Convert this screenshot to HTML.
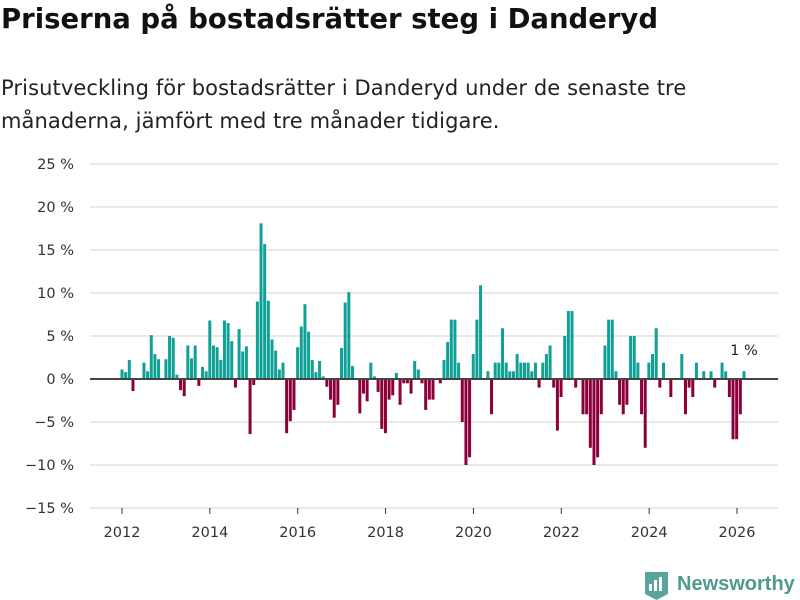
<!DOCTYPE html>
<html><head><meta charset="utf-8"><style>
body{margin:0;width:800px;height:600px;background:#fff;font-family:"DejaVu Sans","Liberation Sans",sans-serif;overflow:hidden;position:relative}
#title{position:absolute;left:1px;top:3px;font-size:27.5px;font-weight:bold;color:#111;margin:0;letter-spacing:0px;white-space:nowrap}
#sub{position:absolute;left:1px;top:72px;font-size:21px;color:#222;line-height:33px;margin:0;white-space:nowrap;letter-spacing:0.1px}
svg{position:absolute;left:0;top:0}
</style></head><body>
<h1 id="title">Priserna på bostadsrätter steg i Danderyd</h1>
<p id="sub">Prisutveckling för bostadsrätter i Danderyd under de senaste tre<br>månaderna, jämfört med tre månader tidigare.</p>
<svg id="chart" width="800" height="600"></svg>
<script>
const values = [
1.1,0.8,2.2,-1.4,0,0,1.9,0.9,5.1,2.9,2.3,0,
2.3,5.0,4.8,0.5,-1.3,-2.0,3.9,2.4,3.9,-0.8,1.4,0.9,
6.8,3.9,3.7,2.2,6.8,6.5,4.4,-1.0,5.8,3.2,3.8,-6.4,
-0.7,9.0,18.1,15.7,9.1,4.6,3.3,1.1,1.9,-6.3,-4.9,-3.6,
3.7,6.1,8.7,5.5,2.2,0.8,2.1,0.3,
-0.9,-2.4,-4.5,-3.0,3.6,8.9,10.1,1.5,0,-4.0,
-1.7,-2.6,1.9,0.3,-1.5,-5.8,-6.3,-2.4,-1.9,0.7,
-3.0,-0.5,-0.5,-1.7,2.1,1.1,-0.5,-3.6,-2.4,-2.4,
0,-0.5,2.2,4.3,6.9,6.9,1.9,-5.0,-10.0,-9.1,
2.9,6.9,10.9,0,0.9,-4.1,1.9,1.9,5.9,1.9,
0.9,0.9,2.9,1.9,1.9,1.9,0.9,1.9,-1.0,1.9,
2.9,3.9,-1.0,-6.0,-2.1,5.0,7.9,7.9,-1.0,0,
-4.1,-4.1,-8.0,-10.0,-9.1,-4.1,3.9,6.9,6.9,0.9,
-3.0,-4.1,-3.0,5.0,5.0,1.9,-4.1,-8.0,1.9,2.9,
5.9,-1.0,1.9,0,-2.1,0,0,2.9,-4.1,-1.0,
-2.1,1.9,0,0.9,0,0.9,-1.0,0,1.9,0.9,
-2.1,-7.0,-7.0,-4.1,0.9
];
const yTicks = [25,20,15,10,5,0,-5,-10,-15];
const yTickLabels = ["25 %","20 %","15 %","10 %","5 %","0 %","−5 %","−10 %","−15 %"];
const xTickLabels = ["2012","2014","2016","2018","2020","2022","2024","2026"];
const lastLabel = "1 %";

const svg = document.getElementById('chart');
const NS = 'http://www.w3.org/2000/svg';
const FONT = 'DejaVu Sans, Liberation Sans, sans-serif';
function y(v){ return 379 - v*8.6; }
function x(i){ return 122 + i*(744-122)/(values.length-1); }
function xTick(k){ return 122 + k*(737-122)/7; }
function mk(tag, attrs){ const e=document.createElementNS(NS,tag); for(const k in attrs) e.setAttribute(k,attrs[k]); svg.appendChild(e); return e; }

yTicks.forEach((t,i)=>{
  if(t!==0){
    const g = mk('line',{x1:90,x2:778,y1:y(t),y2:y(t),stroke:'#dcdcdc','stroke-width':1.2});
    
    
  }
  const tx = mk('text',{x:74,y:y(t)+5,'text-anchor':'end','font-size':14.5,fill:'#333','font-family':FONT});
  tx.textContent = yTickLabels[i];
  
  
});
xTickLabels.forEach((l,k)=>{
  const tk = mk('line',{x1:xTick(k),x2:xTick(k),y1:508,y2:514,stroke:'#333','stroke-width':1});
  
  
  const tx = mk('text',{x:xTick(k),y:537,'text-anchor':'middle','font-size':14.5,fill:'#333','font-family':FONT});
  tx.textContent = l;
  
  
});
values.forEach((v,i)=>{
  if(v===0) return;
  const top = v>0 ? y(v) : y(0);
  const r = mk('rect',{x:x(i)-1.5,y:top,width:3,height:Math.abs(y(v)-y(0)),fill: v>0?'#0fa096':'#8c0039'});
  
  
});
const zl = mk('line',{x1:90,x2:778,y1:y(0),y2:y(0),stroke:'#444','stroke-width':2});


const lb = mk('text',{x:x(values.length-1),y:355,'text-anchor':'middle','font-size':14.5,fill:'#222','font-family':FONT});
lb.textContent = lastLabel;


</script>
<svg width="800" height="600" style="pointer-events:none">
<path d="M645 572 h23 v22 l-11.5 6 l-11.5 -6 z" fill="#5aa59a"/>
<rect x="649" y="584" width="3" height="7" fill="#fff"/><rect x="654" y="580" width="3" height="11" fill="#fff"/><rect x="659" y="577" width="3" height="14" fill="#fff"/>
<text x="677" y="590" font-size="20" font-weight="bold" fill="#4e9a90" font-family="Liberation Sans, sans-serif">Newsworthy</text>
</svg>
</body></html>
